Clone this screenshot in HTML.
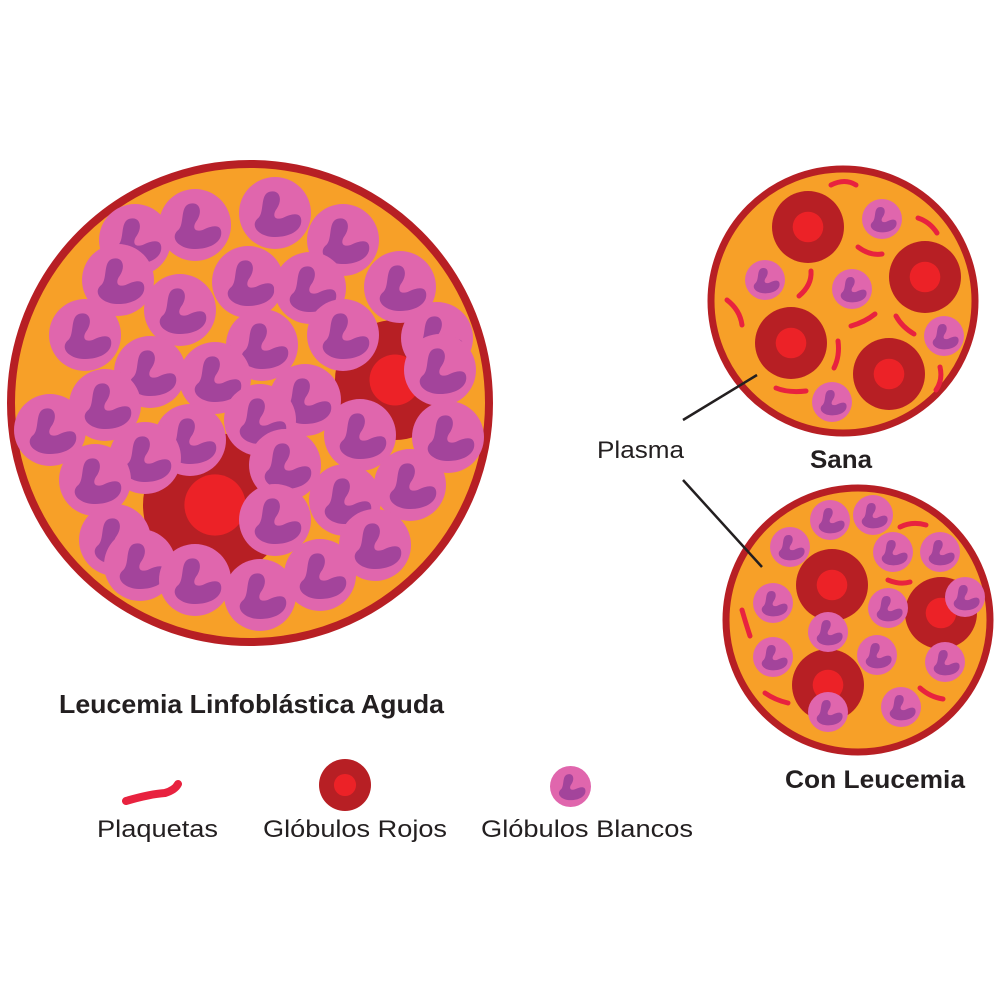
<!DOCTYPE html>
<html><head><style>body{margin:0;background:#fff}svg{display:block}</style></head><body>
<svg width="1000" height="1000" viewBox="0 0 1000 1000" xmlns="http://www.w3.org/2000/svg">
<defs>
<symbol id="w" viewBox="-20 -20 40 40" overflow="visible">
<circle r="20" fill="#e066ad"/>
<path transform="translate(1,1) scale(0.85)" d="M-5,-15 C2,-17 4,-10 0,-4 C-3,0 -2,4 4,2 C10,-1 16,-2 16,4 C16,12 4,16 -6,14 C-14,12 -17,6 -12,2 C-8,-2 -11,-13 -5,-15Z" fill="#a3449b"/>
</symbol>
<symbol id="r" viewBox="-20 -20 40 40" overflow="visible">
<circle r="20" fill="#b71f24"/><circle r="8.5" fill="#ec2227"/>
</symbol>
</defs>
<g font-family="Liberation Sans, sans-serif" fill="#231f20">
<!-- big -->
<circle cx="250" cy="403" r="239" fill="#f7a028" stroke="#b71f24" stroke-width="8"/>
<use href="#r" x="143" y="433" width="144" height="144"/>
<use href="#r" x="335" y="320" width="120" height="120"/>
<g>
<use href="#w" x="99" y="204" width="72" height="72"/>
<use href="#w" x="159" y="189" width="72" height="72"/>
<use href="#w" x="239" y="177" width="72" height="72"/>
<use href="#w" x="307" y="204" width="72" height="72"/>
<use href="#w" x="82" y="244" width="72" height="72"/>
<use href="#w" x="212" y="246" width="72" height="72"/>
<use href="#w" x="274" y="252" width="72" height="72"/>
<use href="#w" x="364" y="251" width="72" height="72"/>
<use href="#w" x="49" y="299" width="72" height="72"/>
<use href="#w" x="144" y="274" width="72" height="72"/>
<use href="#w" x="226" y="309" width="72" height="72"/>
<use href="#w" x="307" y="299" width="72" height="72"/>
<use href="#w" x="401" y="302" width="72" height="72"/>
<use href="#w" x="114" y="336" width="72" height="72"/>
<use href="#w" x="179" y="342" width="72" height="72"/>
<use href="#w" x="404" y="334" width="72" height="72"/>
<use href="#w" x="69" y="369" width="72" height="72"/>
<use href="#w" x="269" y="364" width="72" height="72"/>
<use href="#w" x="14" y="394" width="72" height="72"/>
<use href="#w" x="224" y="384" width="72" height="72"/>
<use href="#w" x="154" y="404" width="72" height="72"/>
<use href="#w" x="324" y="399" width="72" height="72"/>
<use href="#w" x="412" y="401" width="72" height="72"/>
<use href="#w" x="109" y="422" width="72" height="72"/>
<use href="#w" x="59" y="444" width="72" height="72"/>
<use href="#w" x="249" y="429" width="72" height="72"/>
<use href="#w" x="374" y="449" width="72" height="72"/>
<use href="#w" x="309" y="464" width="72" height="72"/>
<use href="#w" x="79" y="504" width="72" height="72"/>
<use href="#w" x="239" y="484" width="72" height="72"/>
<use href="#w" x="339" y="509" width="72" height="72"/>
<use href="#w" x="104" y="529" width="72" height="72"/>
<use href="#w" x="159" y="544" width="72" height="72"/>
<use href="#w" x="224" y="559" width="72" height="72"/>
<use href="#w" x="284" y="539" width="72" height="72"/>
</g>
<text x="59" y="713" font-size="26" font-weight="bold" textLength="385" lengthAdjust="spacingAndGlyphs">Leucemia Linfoblástica Aguda</text>
<!-- Sana -->
<circle cx="843" cy="301" r="132" fill="#f7a028" stroke="#b71f24" stroke-width="7"/>
<g fill="none" stroke="#e8223f" stroke-width="5" stroke-linecap="round">
<path d="M831,185 Q845,178 856,185"/><path d="M918,218 Q930,222 937,233"/><path d="M858,247 Q870,256 882,254"/>
<path d="M811,271 Q812,285 799,296"/><path d="M727,300 Q740,310 742,325"/><path d="M851,326 Q865,322 875,314"/>
<path d="M896,316 Q902,327 914,334"/><path d="M838,341 Q840,356 834,368"/><path d="M776,388 Q788,393 806,391"/><path d="M940,367 Q943,380 936,390"/>
</g>
<use href="#r" x="772" y="191" width="72" height="72"/>
<use href="#r" x="889" y="241" width="72" height="72"/>
<use href="#r" x="755" y="307" width="72" height="72"/>
<use href="#r" x="853" y="338" width="72" height="72"/>
<use href="#w" x="862" y="199" width="40" height="40"/>
<use href="#w" x="745" y="260" width="40" height="40"/>
<use href="#w" x="832" y="269" width="40" height="40"/>
<use href="#w" x="924" y="316" width="40" height="40"/>
<use href="#w" x="812" y="382" width="40" height="40"/>
<text x="810" y="468" font-size="25" font-weight="bold" textLength="62" lengthAdjust="spacingAndGlyphs">Sana</text>
<!-- Con leucemia -->
<circle cx="858" cy="620" r="132" fill="#f7a028" stroke="#b71f24" stroke-width="7"/>
<g fill="none" stroke="#e8223f" stroke-width="5" stroke-linecap="round">
<path d="M900,527 Q912,521 926,525"/><path d="M742,610 Q746,624 750,636"/><path d="M765,693 Q775,700 788,703"/><path d="M920,688 Q930,697 943,699"/><path d="M888,580 Q900,585 910,582"/>
</g>
<use href="#r" x="796" y="549" width="72" height="72"/>
<use href="#r" x="905" y="577" width="72" height="72"/>
<use href="#r" x="792" y="649" width="72" height="72"/>
<g>
<use href="#w" x="770" y="527" width="40" height="40"/>
<use href="#w" x="810" y="500" width="40" height="40"/>
<use href="#w" x="853" y="495" width="40" height="40"/>
<use href="#w" x="873" y="532" width="40" height="40"/>
<use href="#w" x="920" y="532" width="40" height="40"/>
<use href="#w" x="945" y="577" width="40" height="40"/>
<use href="#w" x="868" y="588" width="40" height="40"/>
<use href="#w" x="753" y="583" width="40" height="40"/>
<use href="#w" x="808" y="612" width="40" height="40"/>
<use href="#w" x="857" y="635" width="40" height="40"/>
<use href="#w" x="925" y="642" width="40" height="40"/>
<use href="#w" x="753" y="637" width="40" height="40"/>
<use href="#w" x="881" y="687" width="40" height="40"/>
<use href="#w" x="808" y="692" width="40" height="40"/>
</g>
<text x="785" y="788" font-size="25" font-weight="bold" textLength="180" lengthAdjust="spacingAndGlyphs">Con Leucemia</text>
<!-- plasma -->
<line x1="683" y1="420" x2="757" y2="375" stroke="#231f20" stroke-width="2.5"/>
<line x1="683" y1="480" x2="762" y2="567" stroke="#231f20" stroke-width="2.5"/>
<text x="597" y="458" font-size="24" textLength="87" lengthAdjust="spacingAndGlyphs">Plasma</text>
<!-- legend -->
<path d="M126,801 Q150,794 165,793 Q175,790 178,784" fill="none" stroke="#e8223f" stroke-width="8" stroke-linecap="round"/>
<use href="#r" x="319" y="759" width="52" height="52"/>
<use href="#w" x="550" y="766" width="41" height="41"/>
<text x="97" y="837" font-size="24" textLength="121" lengthAdjust="spacingAndGlyphs">Plaquetas</text>
<text x="263" y="837" font-size="24" textLength="184" lengthAdjust="spacingAndGlyphs">Glóbulos Rojos</text>
<text x="481" y="837" font-size="24" textLength="212" lengthAdjust="spacingAndGlyphs">Glóbulos Blancos</text>
</g>
</svg>
</body></html>
